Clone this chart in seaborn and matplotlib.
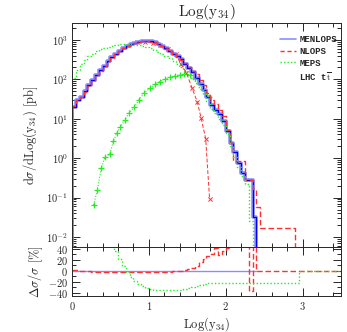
import matplotlib
matplotlib.use('Agg')
import matplotlib.pyplot as plt
from matplotlib.ticker import MultipleLocator, LogLocator, NullFormatter
from matplotlib.lines import Line2D
import numpy as np
import seaborn as sns

# histogram bin edges (width 0.05)
MEN_EDGES = np.round(np.arange(0, 2.401, 0.05), 2)
NLO_EDGES = list(np.round(np.arange(0, 2.451, 0.05), 2)) + [2.9]
MEPS_EDGES = np.round(np.arange(0, 2.351, 0.05), 2)

menlops = [20, 30, 35, 50, 70, 95, 130, 170, 220, 290,
           360, 440, 530, 620, 700, 780, 850, 910, 950, 940,
           920, 880, 800, 700, 610, 530, 450, 380, 320, 250,
           195, 150, 110, 78, 55, 35, 22, 17, 13, 9,
           5, 2.5, 1.4, 0.75, 0.42, 0.28, 0.28, 0.032]

nlops = [20.5, 30.5, 35, 49, 69, 93, 127, 166, 216, 284,
         353, 431, 520, 608, 686, 764, 833, 892, 931, 921,
         902, 862, 784, 686, 598, 520, 441, 373, 318, 258,
         210, 162, 133, 98, 70, 46, 30, 24, 17, 12,
         5.2, 2.4, 0.85, 0.85, 0.85, 0.28, 0.28, 0.17, 0.058,
         0.0166]

meps = [110, 170, 240, 310, 380, 450, 520, 580, 630, 680,
        720, 760, 780, 790, 790, 780, 760, 740, 700, 650,
        610, 560, 500, 450, 400, 350, 300, 250, 210, 170,
        135, 105, 80, 58, 42, 28, 18, 14, 10, 7,
        4, 2, 1.1, 0.6, 0.35, 0.22, 0.025]

# NLOPS component with x markers
nlo_x_x = [0.85, 0.95, 1.05, 1.15, 1.25, 1.35, 1.42, 1.49, 1.56, 1.63, 1.68, 1.74, 1.79]
nlo_x_y = [880, 900, 850, 740, 600, 440, 240, 145, 62, 27, 10.5, 3.1, 0.095]

# MEPS component with + markers
meps_p_x = [0.28, 0.33, 0.38, 0.43, 0.49, 0.54, 0.58, 0.63, 0.69, 0.74, 0.81, 0.87, 0.94,
            1.01, 1.08, 1.14, 1.21, 1.27, 1.34, 1.40, 1.46, 1.53, 1.60, 1.66, 1.72, 1.78]
meps_p_y = [0.065, 0.155, 0.55, 1.1, 1.26, 2.7, 4.3, 6.3, 9.3, 14, 19.5, 30, 45,
            59, 75, 88, 100, 112, 123, 130, 134, 130, 110, 80, 54, 35]

# ratio panel, in percent
MEN_RATIO_EDGES = [0, 2.4]
men_ratio = [0]
NLO_RATIO_EDGES = list(np.round(np.arange(0, 2.401, 0.05), 2)) + [3.5]
nlo_ratio = [2, 2, 0, -1, -1, -2, -2, -2, -2, -2,
             -2, -2, -2, -2, -2, -2, -2, -2, -2, -2,
             -2, -2, -2, -2, -2, -2, -1, -1, 0, 2,
             3, 5, 9, 15, 22, 26, 30, 42, 28, 35,
             42, 60, 70, 80, 90, 90, -36, 90, 0]
MEPS_RATIO_EDGES = [0, 0.55, 0.6, 0.65, 0.7, 0.75, 0.8, 0.85, 0.9, 0.95, 1.0,
                    1.05, 1.45, 1.5, 1.55, 1.6, 1.65, 1.7, 1.75, 2.95, 3.5]
meps_ratio = [60, 35, 21, 8, -2, -11, -18, -24, -28, -31,
              -33, -35, -33, -31, -30, -28, -26, -24, -22, 0]

BLUE_LIGHT = '#8c8cff'
BLUE = '#0000ee'
RED = '#ff3030'
GREEN = '#22ee22'
DASH = (0, (4, 2))
DOT = (0, (1, 1.5))


def stairs_xy(edges, vals, floor=None):
    x = list(edges)
    y = list(vals) + [vals[-1]]
    if floor is not None:
        x = [edges[0]] + x + [edges[-1]]
        y = [floor] + y + [floor]
    return x, y


def step_line(ax, edges, vals, floor=None, **kw):
    x, y = stairs_xy(edges, vals, floor)
    sns.lineplot(x=x, y=y, ax=ax, estimator=None, sort=False,
                 drawstyle='steps-post', **kw)


sns.set_style('ticks')
plt.rcParams['font.family'] = ['cmr10', 'DejaVu Serif']
plt.rcParams['mathtext.fontset'] = 'cm'
plt.rcParams['axes.formatter.use_mathtext'] = True
plt.rcParams['axes.unicode_minus'] = False

fig = plt.figure(figsize=(3.47, 3.32), dpi=100)
ax = fig.add_axes([0.2075, 0.256, 0.775, 0.675])
axr = fig.add_axes([0.2075, 0.108, 0.775, 0.148], sharex=ax)

FLOOR = 1e-5
step_line(ax, MEN_EDGES, menlops, FLOOR, color=BLUE_LIGHT, linewidth=2.6)
step_line(ax, MEN_EDGES, menlops, FLOOR, color=BLUE, linewidth=0.9)
step_line(ax, NLO_EDGES, nlops, FLOOR, color=RED, linewidth=1.0, linestyle=DASH)
step_line(ax, MEPS_EDGES, meps, FLOOR, color=GREEN, linewidth=1.0, linestyle=DOT)

sns.lineplot(x=nlo_x_x, y=nlo_x_y, ax=ax, estimator=None, sort=False, color=RED,
             linewidth=0.7, linestyle=DASH)
sns.scatterplot(x=nlo_x_x, y=nlo_x_y, ax=ax, color=RED, marker='x', s=9,
                linewidth=0.7)
sns.lineplot(x=meps_p_x, y=meps_p_y, ax=ax, estimator=None, sort=False, color=GREEN,
             linewidth=0.8, linestyle=DOT)
sns.scatterplot(x=meps_p_x, y=meps_p_y, ax=ax, color=GREEN, marker='+', s=22,
                linewidth=0.9)

ax.set_yscale('log')
ax.set_xlim(0, 3.5)
ax.set_ylim(5.6e-3, 2.7e3)
ax.yaxis.set_major_locator(LogLocator(base=10, numticks=20))
ax.yaxis.set_minor_locator(LogLocator(base=10, subs=np.arange(2, 10), numticks=20))
ax.yaxis.set_minor_formatter(NullFormatter())
ax.set_ylabel(r'd$\sigma$/dLog(y$_{34}$) [pb]', fontsize=9, labelpad=4)
ax.set_title(r'Log(y$_{34}$)', fontsize=11, pad=5)
ax.tick_params(labelbottom=False)

# ratio panel
step_line(axr, MEN_RATIO_EDGES, men_ratio, color=BLUE_LIGHT, linewidth=1.0)
step_line(axr, NLO_RATIO_EDGES, nlo_ratio, color=RED, linewidth=1.0, linestyle=DASH)
step_line(axr, MEPS_RATIO_EDGES, meps_ratio, color=GREEN, linewidth=1.0, linestyle=DOT)
axr.set_ylim(-46, 43)
axr.yaxis.set_major_locator(MultipleLocator(20))
axr.yaxis.set_minor_locator(MultipleLocator(10))
axr.xaxis.set_major_locator(MultipleLocator(1))
axr.xaxis.set_minor_locator(MultipleLocator(0.2))
axr.set_xlabel(r'Log(y$_{34}$)', fontsize=9, labelpad=2)
axr.set_ylabel(r'$\Delta\sigma/\sigma$ [%]', fontsize=9, labelpad=2)

for a in (ax, axr):
    a.tick_params(which='both', direction='in', top=True, right=True,
                  labelsize=7.5, width=0.7, pad=3)
    a.tick_params(which='major', length=6)
    a.tick_params(which='minor', length=3)
    for s in a.spines.values():
        s.set_linewidth(0.7)

handles = [Line2D([], [], color=BLUE_LIGHT, linewidth=1.2),
           Line2D([], [], color=RED, linewidth=1.0, linestyle=(0, (3, 2))),
           Line2D([], [], color=GREEN, linewidth=1.0, linestyle=DOT),
           Line2D([], [], color='none')]
labels = ['MENLOPS', 'NLOPS', 'MEPS', r'LHC t$\overline{\mathrm{t}}$']
ax.legend(handles, labels, loc='upper left', bbox_to_anchor=(0.775, 0.945),
          frameon=False, borderpad=0, borderaxespad=0, handlelength=1.7,
          handletextpad=0.4, labelspacing=0.3,
          prop={'family': 'Liberation Mono', 'weight': 'bold', 'size': 6.5})

fig.savefig('out.png', dpi=100)
